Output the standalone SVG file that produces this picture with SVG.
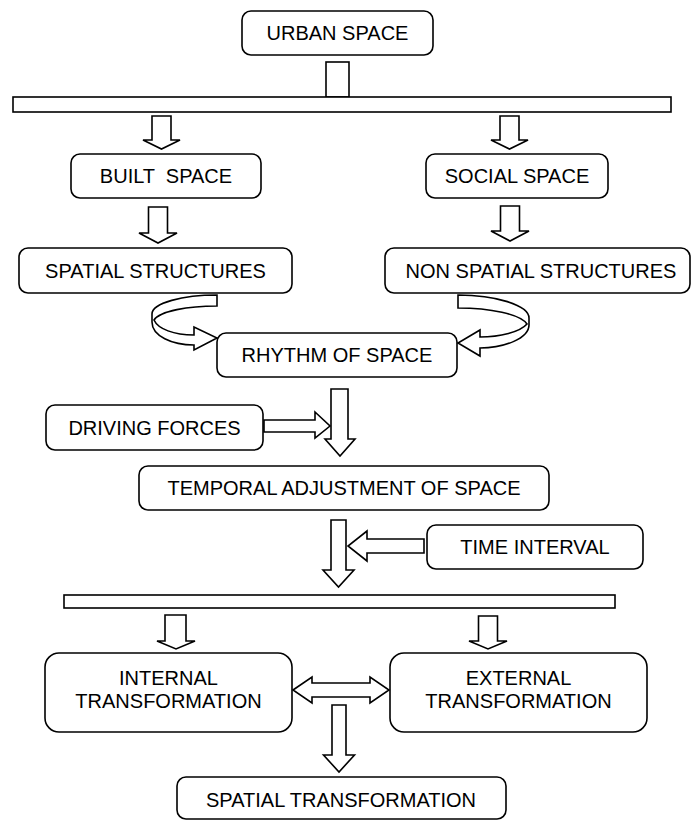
<svg xmlns="http://www.w3.org/2000/svg" width="691" height="820" viewBox="0 0 691 820">
<style>
.box{fill:#fff;stroke:#000;stroke-width:1.6}
.bar{fill:#fff;stroke:#000;stroke-width:1.6}
.arr{fill:#fff;stroke:#000;stroke-width:1.6;stroke-linejoin:miter}
text{font-family:"Liberation Sans",Arial,sans-serif;font-size:20px;fill:#000;text-anchor:middle}
</style>
<rect width="691" height="820" fill="#fff"/>
<g id="urban-space"><rect class="box" x="242" y="11" width="191" height="44" rx="9"/><text x="337.5" y="40">URBAN SPACE</text></g>
<g id="bar-top"><rect class="bar" x="326" y="62" width="23" height="35"/><rect class="bar" x="13" y="97" width="658" height="15"/></g>
<g id="built-space"><rect class="box" x="71" y="154" width="190" height="44" rx="9"/><text x="166" y="183" xml:space="preserve">BUILT  SPACE</text></g>
<g id="social-space"><rect class="box" x="426" y="154" width="182" height="44" rx="9"/><text x="517" y="183">SOCIAL SPACE</text></g>
<g id="spatial-structures"><rect class="box" x="19" y="248" width="273" height="45" rx="9"/><text x="155.5" y="278">SPATIAL STRUCTURES</text></g>
<g id="non-spatial-structures"><rect class="box" x="385" y="248" width="305" height="45" rx="9"/><text x="541" y="278">NON SPATIAL STRUCTURES</text></g>
<g id="rhythm-of-space"><rect class="box" x="217" y="333" width="240" height="44" rx="9"/><text x="337" y="362">RHYTHM OF SPACE</text></g>
<g id="driving-forces"><rect class="box" x="46" y="405" width="217" height="45" rx="9"/><text x="154.5" y="435">DRIVING FORCES</text></g>
<g id="temporal-adjustment"><rect class="box" x="139" y="466" width="410" height="44" rx="9"/><text x="344" y="495">TEMPORAL ADJUSTMENT OF SPACE</text></g>
<g id="time-interval"><rect class="box" x="427" y="525" width="216" height="44" rx="9"/><text x="535" y="554">TIME INTERVAL</text></g>
<g id="bar-bottom"><rect class="bar" x="64" y="595" width="551" height="13"/></g>
<g id="internal-transformation"><rect class="box" x="45" y="653" width="247" height="79" rx="14"/><text x="168.5" y="685">INTERNAL</text><text x="168.5" y="708">TRANSFORMATION</text></g>
<g id="external-transformation"><rect class="box" x="390" y="653" width="257" height="79" rx="14"/><text x="518.5" y="685">EXTERNAL</text><text x="518.5" y="708">TRANSFORMATION</text></g>
<g id="spatial-transformation"><rect class="box" x="177" y="777" width="329" height="42" rx="9"/><text x="341" y="807">SPATIAL TRANSFORMATION</text></g>
<g id="connectors">
<path class="arr" d="M152,116 H171 V140 H180 L161.5,149 L143,140 H152 Z"/>
<path class="arr" d="M500,116 H519 V140 H528 L509.5,149 L491,140 H500 Z"/>
<path class="arr" d="M148.5,207 H167.5 V233 H177 L158,243 L139,233 H148.5 Z"/>
<path class="arr" d="M500.5,206 H519.5 V231 H529 L510,241 L491,231 H500.5 Z"/>
<path class="arr" d="M217,295 C183,295 152,303 152,314 L152,322 C152,336 172,345 194,345 L194,350 L217,338 L194,327 L194,335 C174,335 158,329 154,320 C160,311 188,306 217,306 Z"/>
<path class="arr" d="M458,295 C495,295 529,305 529,318 L529,325 C529,338 505,348 480,348 L480,356 L458,343 L480,330 L480,337 C500,337 520,332 527,324 C520,314 490,308 458,308 Z"/>
<path class="arr" d="M331,389 H348 V439 H355 L340,456 L325,439 H331 Z"/>
<path class="arr" d="M264,420 H315 V412 L330,426 L315,438 V432 H264 Z"/>
<path class="arr" d="M331,520 H346 V570 H354 L338.5,587 L323,570 H331 Z"/>
<path class="arr" d="M424,539 H367 V531 L348,546 L367,561 V553 H424 Z"/>
<path class="arr" d="M165,615 H186 V641 H195 L176,649 L157,641 H165 Z"/>
<path class="arr" d="M478.5,616 H497.5 V641 H507 L488,649 L469,641 H478.5 Z"/>
<path class="arr" d="M293,690 L312,677 V683 H370 V677 L389,690 L370,703 V697 H312 V703 Z"/>
<path class="arr" d="M332,705 H346 V755 H354.5 L339,772 L323.5,755 H332 Z"/>
</g>
</svg>
